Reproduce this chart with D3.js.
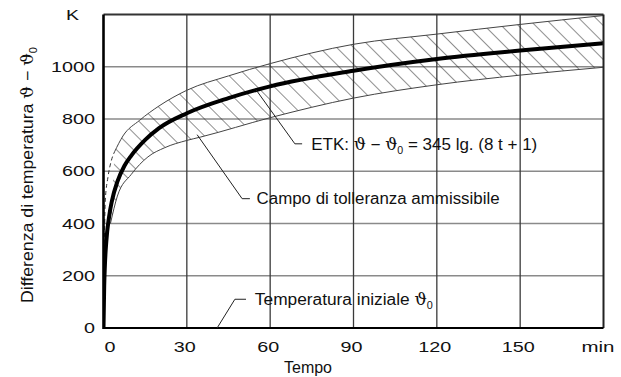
<!DOCTYPE html>
<html>
<head>
<meta charset="utf-8">
<script src="https://cdn.jsdelivr.net/npm/d3@7"></script>
<style>
  body { margin: 0; background: #fff; }
  text { font-family: "Liberation Sans", Arial, sans-serif; fill: #111; }
  .sym { font-family: "DejaVu Serif", "Liberation Serif", serif; }
</style>
</head>
<body>
<svg id="chart" width="621" height="377"></svg>
<script>
// ticks
var timeTicks = [0, 30, 60, 90, 120, 150];
var tempTicks = [0, 200, 400, 600, 800, 1000];

// ETK curve
var etkTime = [0, 0.25, 0.5, 1, 2, 3, 5, 7.5, 10, 15, 20, 30, 45, 60, 90, 120, 150, 180];
var etkTemp = [0, 160, 240, 330, 425, 485, 560, 620, 660, 720, 765, 822, 880, 925, 985, 1030, 1062, 1090];

// tolerance band limits
var upperTime = [4, 7, 13, 20, 30, 45, 60, 90, 120, 150, 180];
var upperTemp = [675, 735, 795, 850, 910, 965, 1012, 1086, 1125, 1162, 1196];
var lowerTime = [2.5, 5, 10, 16, 22, 30, 35, 60, 90, 120, 150, 180];
var lowerTemp = [400, 505, 588, 655, 690, 718, 731, 805, 880, 931, 968, 998];

// dashed start of the upper limit
var dashTime = [0, 0.3, 0.65, 1.6, 2.8, 4];
var dashTemp = [0, 300, 490, 577, 640, 675];

var svg = d3.select("#chart");

var x = d3.scaleLinear().domain([0, 180]).range([103.5, 603.5]);
var y = d3.scaleLinear().domain([0, 1200]).range([328, 14.5]);

var pts = function(ts, vs) {
  return ts.map(function(t, i) { return [t, vs[i]]; });
};
var line = d3.line()
  .x(function(d) { return x(d[0]); })
  .y(function(d) { return y(d[1]); })
  .curve(d3.curveMonotoneX);

// hatch pattern
var defs = svg.append("defs");
defs.append("pattern")
  .attr("id", "hatch")
  .attr("patternUnits", "userSpaceOnUse")
  .attr("width", 12)
  .attr("height", 12)
  .attr("patternTransform", "rotate(-45)")
  .append("line")
  .attr("x1", 0).attr("y1", 0)
  .attr("x2", 0).attr("y2", 12)
  .attr("stroke", "#222")
  .attr("stroke-width", 1);
defs.append("clipPath")
  .attr("id", "plotclip")
  .append("rect")
  .attr("x", x(0)).attr("y", y(1200))
  .attr("width", x(180) - x(0)).attr("height", y(0) - y(1200));

// grid
svg.append("g")
  .selectAll("line")
  .data(tempTicks.slice(1))
  .enter()
  .append("line")
  .attr("x1", x(0)).attr("x2", x(180))
  .attr("y1", function(d) { return y(d); })
  .attr("y2", function(d) { return y(d); })
  .attr("stroke", "#8a8a8a")
  .attr("stroke-width", 1.6);
svg.append("g")
  .selectAll("line")
  .data(timeTicks.slice(1))
  .enter()
  .append("line")
  .attr("y1", y(0)).attr("y2", y(1200))
  .attr("x1", function(d) { return x(d); })
  .attr("x2", function(d) { return x(d); })
  .attr("stroke", "#3a3a3a")
  .attr("stroke-width", 1.3);

// band
var plot = svg.append("g").attr("clip-path", "url(#plotclip)");
var upperPts = pts(upperTime, upperTemp);
var lowerPts = pts(lowerTime, lowerTemp);
var bandPath = line(upperPts) + "L" + line(lowerPts.slice().reverse()).slice(1) + "Z";
plot.append("path")
  .attr("d", bandPath)
  .attr("fill", "url(#hatch)")
  .attr("stroke", "none");
plot.append("path")
  .attr("d", line(upperPts))
  .attr("fill", "none")
  .attr("stroke", "#444")
  .attr("stroke-width", 1);
plot.append("path")
  .attr("d", line(lowerPts))
  .attr("fill", "none")
  .attr("stroke", "#444")
  .attr("stroke-width", 1);
plot.append("path")
  .attr("d", line(pts(dashTime, dashTemp)))
  .attr("fill", "none")
  .attr("stroke", "#333")
  .attr("stroke-width", 1)
  .attr("stroke-dasharray", "4,3");

// ETK curve
plot.append("path")
  .attr("d", line(pts(etkTime, etkTemp)))
  .attr("fill", "none")
  .attr("stroke", "#000")
  .attr("stroke-width", 4)
  .attr("stroke-linecap", "round");

// frame
svg.append("line").attr("x1", x(0)).attr("x2", x(180)).attr("y1", y(1200)).attr("y2", y(1200))
  .attr("stroke", "#333").attr("stroke-width", 2);
svg.append("line").attr("x1", x(180)).attr("x2", x(180)).attr("y1", y(1200)).attr("y2", y(0))
  .attr("stroke", "#222").attr("stroke-width", 2);
svg.append("line").attr("x1", x(0)).attr("x2", x(180)).attr("y1", y(0)).attr("y2", y(0))
  .attr("stroke", "#000").attr("stroke-width", 2.2);
svg.append("line").attr("x1", x(0)).attr("x2", x(0)).attr("y1", y(1200)).attr("y2", y(0) + 1)
  .attr("stroke", "#000").attr("stroke-width", 2.6);

// tick labels
svg.append("g")
  .selectAll("text")
  .data(tempTicks)
  .enter()
  .append("text")
  .attr("x", 95)
  .attr("y", function(d) { return y(d); })
  .attr("dy", "0.36em")
  .attr("text-anchor", "end")
  .attr("font-size", 14)
  .attr("textLength", function(d) { return String(d).length * 11; })
  .attr("lengthAdjust", "spacingAndGlyphs")
  .text(function(d) { return d; });
svg.append("text")
  .attr("x", 72.5).attr("y", 15).attr("dy", "0.36em")
  .attr("text-anchor", "middle")
  .attr("font-size", 14)
  .attr("textLength", 13)
  .attr("lengthAdjust", "spacingAndGlyphs")
  .text("K");

svg.append("g")
  .selectAll("text")
  .data(timeTicks)
  .enter()
  .append("text")
  .attr("x", function(d) { return d === 0 ? x(d) + 6.5 : x(d) - 2; })
  .attr("y", 347)
  .attr("dy", "0.36em")
  .attr("text-anchor", "middle")
  .attr("font-size", 14)
  .attr("textLength", function(d) { return String(d).length * 11; })
  .attr("lengthAdjust", "spacingAndGlyphs")
  .text(function(d) { return d; });
svg.append("text")
  .attr("x", 598).attr("y", 347).attr("dy", "0.36em")
  .attr("text-anchor", "middle")
  .attr("font-size", 14)
  .attr("textLength", 33)
  .attr("lengthAdjust", "spacingAndGlyphs")
  .text("min");

// axis titles
svg.append("text")
  .attr("x", 308).attr("y", 367).attr("dy", "0.36em")
  .attr("text-anchor", "middle")
  .attr("font-size", 16)
  .text("Tempo");

var yTitle = svg.append("text")
  .attr("transform", "translate(33,175) rotate(-90)")
  .attr("text-anchor", "middle")
  .attr("font-size", 16)
  .attr("textLength", 256)
  .attr("lengthAdjust", "spacingAndGlyphs");
yTitle.append("tspan").text("Differenza di temperatura  ");
yTitle.append("tspan").attr("class", "sym").text("ϑ");
yTitle.append("tspan").text(" − ");
yTitle.append("tspan").attr("class", "sym").text("ϑ");
yTitle.append("tspan").attr("font-size", 10).attr("dy", 4).text("0");

// annotations, in data units
var leaderETK = [[54.9, 912], [68.9, 705], [71.5, 705]];
var leaderBand = [[33.7, 740], [49.9, 495], [52.7, 495]];
var leaderStart = [[40.9, 0], [47.3, 110], [51.3, 110]];
var straight = d3.line()
  .x(function(d) { return x(d[0]); })
  .y(function(d) { return y(d[1]); });
[leaderETK, leaderBand, leaderStart].forEach(function(l) {
  svg.append("path")
    .attr("d", straight(l))
    .attr("fill", "none")
    .attr("stroke", "#222")
    .attr("stroke-width", 1);
});

var t1 = svg.append("text")
  .attr("x", x(74.8)).attr("y", y(705)).attr("dy", "0.36em")
  .attr("font-size", 16)
  .attr("textLength", 226)
  .attr("lengthAdjust", "spacingAndGlyphs");
t1.append("tspan").text("ETK: ");
t1.append("tspan").attr("class", "sym").text("ϑ");
t1.append("tspan").text(" − ");
t1.append("tspan").attr("class", "sym").text("ϑ");
t1.append("tspan").attr("font-size", 10).attr("dy", 4).text("0");
t1.append("tspan").attr("dy", -4).text(" = 345 lg. (8 t + 1)");

svg.append("text")
  .attr("x", x(55.1)).attr("y", y(495)).attr("dy", "0.36em")
  .attr("font-size", 16)
  .attr("textLength", 243)
  .attr("lengthAdjust", "spacingAndGlyphs")
  .text("Campo di tolleranza ammissibile");

var t3 = svg.append("text")
  .attr("x", x(54.5)).attr("y", y(110)).attr("dy", "0.36em")
  .attr("font-size", 16)
  .attr("textLength", 178)
  .attr("lengthAdjust", "spacingAndGlyphs");
t3.append("tspan").text("Temperatura iniziale ");
t3.append("tspan").attr("class", "sym").text("ϑ");
t3.append("tspan").attr("font-size", 10).attr("dy", 4).text("0");
</script>
</body>
</html>
